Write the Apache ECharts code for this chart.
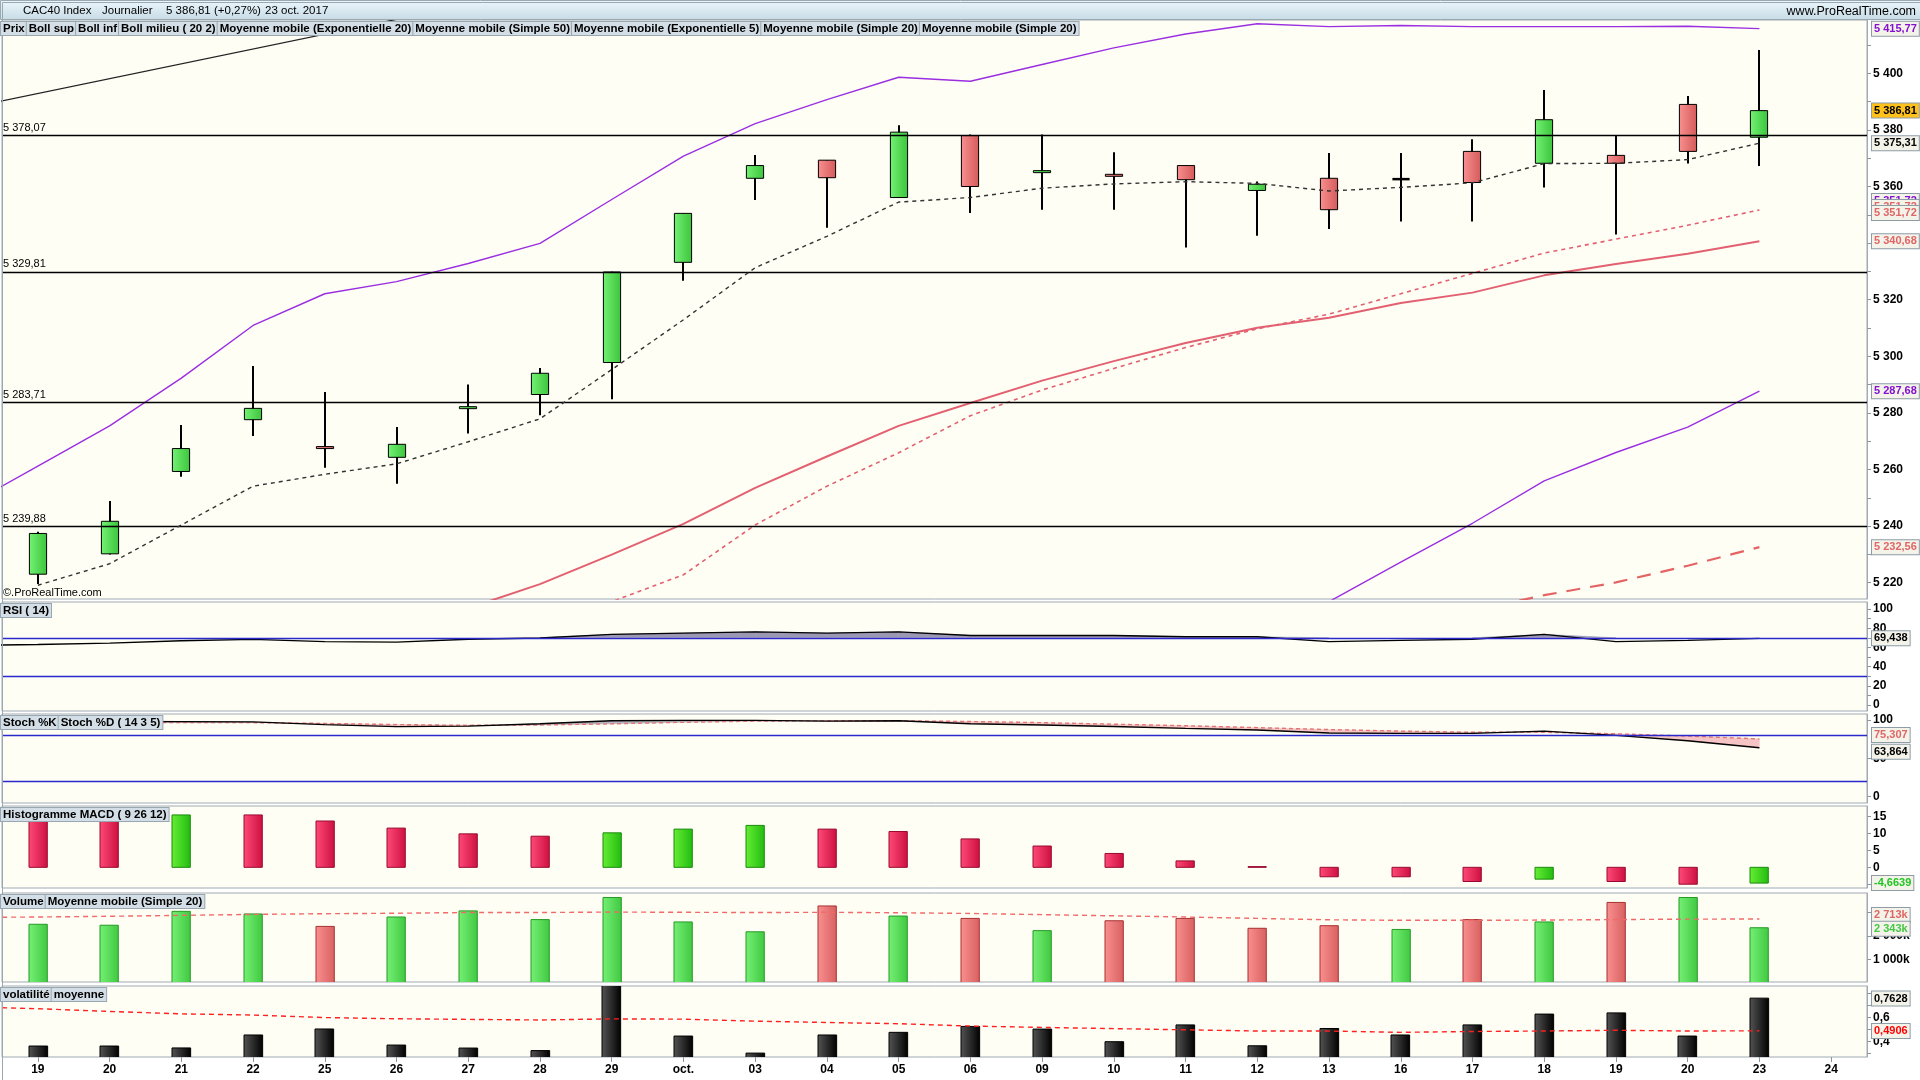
<!DOCTYPE html>
<html><head><meta charset="utf-8">
<script src="https://cdn.jsdelivr.net/npm/echarts@6/dist/echarts.min.js"></script>
<style>html,body{margin:0;padding:0;background:#fff;}#c{width:1920px;height:1080px;}</style>
</head><body><div id="c"></div><script>
// ---------------- DATA ----------------
const dateLabels = ['19','20','21','22','25','26','27','28','29','oct.','03','04','05','06','09','10','11','12','13','16','17','18','19','20','23','24'];
const openP  = [5223.0,5230.2,5259.3,5277.6,5268.1,5264.3,5281.5,5286.5,5297.8,5333.2,5362.9,5369.3,5356.1,5378.0,5364.9,5364.3,5367.4,5358.6,5362.9,5362.6,5372.4,5368.2,5371.0,5389.0,5377.4];
const highP  = [5238.0,5248.9,5275.7,5296.6,5287.4,5275.0,5290.0,5295.9,5329.9,5350.6,5371.1,5369.4,5381.6,5378.4,5378.4,5372.1,5367.6,5361.8,5371.8,5371.8,5376.7,5394.1,5377.9,5392.0,5408.2];
const lowP   = [5219.5,5230.0,5257.4,5271.8,5260.6,5255.0,5272.7,5279.2,5284.8,5326.7,5355.2,5345.4,5356.0,5350.6,5351.8,5351.8,5338.4,5342.6,5345.0,5347.6,5347.6,5359.6,5343.0,5368.1,5367.2];
const closeP = [5237.4,5241.7,5267.4,5281.6,5267.4,5268.9,5282.2,5294.0,5329.8,5350.5,5367.4,5363.1,5379.2,5360.0,5365.6,5363.7,5362.4,5360.8,5351.8,5362.6,5361.4,5383.6,5368.2,5372.4,5386.81];
const hLevels = [5378.07, 5329.81, 5283.71, 5239.88];
const bollSupPrior = 5247, bollInfPrior = 5069;
const bollSup = [5261.2,5275.4,5292.3,5310.9,5322.1,5326.4,5332.8,5339.9,5355.4,5370.7,5382.2,5390.7,5398.6,5397.2,5403.1,5409.0,5413.9,5417.5,5416.5,5416.9,5416.5,5416.5,5416.5,5416.6,5415.77];
const bollInf = [5062.7,5056.6,5047.7,5039.1,5041.9,5049.6,5057.2,5066.1,5070.6,5074.9,5098.6,5117.5,5133.2,5160.8,5173.1,5182.4,5192.3,5201.9,5213.3,5227.3,5241,5256,5266,5275,5287.68];
const ema5  = [5219.1,5226.7,5240.4,5254.1,5258.3,5262.0,5269.8,5277.9,5295.3,5312.9,5331.3,5342.4,5354.5,5356.1,5359.4,5360.9,5361.7,5361.1,5358.4,5359.7,5361.3,5368.1,5368.2,5369.5,5375.31];
const ema20 = [null,null,null,null,null,5203,5211,5219.5,5229.9,5240.8,5253.5,5264.6,5275.4,5283.5,5291.4,5298.3,5304.7,5310.1,5313.6,5318.8,5322.5,5328.6,5332.6,5336.2,5340.68];
const sma20 = [null,null,null,null,null,null,null,5204,5213.3,5222.8,5240.4,5254.1,5265.9,5279.0,5288.1,5295.7,5303.1,5309.7,5314.9,5322.1,5329.3,5336.5,5341.4,5346.3,5351.72];
const sma50 = [null,null,null,null,null,null,null,null,null,null,null,null,null,null,null,null,null,null,null,null,5210,5215.6,5220.1,5226.0,5232.56];
const trendX = [-0.55, 5.6];
const trendY = [5390.0, 5422.2];
const priceTicks  = [5220,5230,5240,5250,5260,5270,5280,5290,5300,5310,5320,5330,5340,5350,5360,5370,5380,5390,5400,5410];
const priceLabels = [5220,5240,5260,5280,5300,5320,5340,5360,5380,5400];

const rsiPrior = 62;
const rsi = [63,64.5,67,68.4,66,65.5,68.5,69.8,73.6,74.9,76.2,74.9,76.2,72.4,72.4,72.4,71.1,71.1,66,67.3,68.5,73.6,66,67.3,69.438];
const rsiLevels = [70, 30];
const rsiTicks = [0,10,20,30,40,50,60,70,80,90,100];
const rsiLabels = [0,20,40,60,80,100];

const stochKPrior = 98, stochDPrior = 95.5;
const stochK = [98,98,97.8,97.5,94,91.3,92,95,99,99.5,99.5,98.5,99,95,93.5,91.5,89,87,83,82.5,82.5,85.5,80,73,63.864];
const stochD = [96,96.5,96.5,96.5,95.5,94,93,93.5,95,97,98.5,99,99,98,96.5,94.5,92.5,90,87.5,85.5,84,84,82,79,75.307];
const stochLevels = [80, 20];
const stochTicks = [0,50,100];

const macd = [13.7,13.7,15.5,15.5,13.7,11.6,9.9,9.2,10.2,11.3,12.4,11.3,10.6,8.4,6.3,4.1,1.9,0.2,-2.8,-2.8,-4.2,-3.5,-4.2,-5.0,-4.6639];
const macdDir = ['d','d','u','d','d','d','d','d','u','u','u','d','d','d','d','d','d','d','d','d','d','u','d','d','u'];
const macdTicks = [-5,0,5,10,15];

const volume = [2490,2450,3040,2930,2400,2800,3060,2690,3630,2590,2170,3270,2840,2740,2220,2640,2740,2320,2430,2270,2690,2590,3420,3630,2343];
const volDir = ['u','u','u','u','d','u','u','u','u','u','u','d','u','d','u','d','d','d','d','u','d','u','d','u','u'];
const volMAPrior = 2780;
const volMA = [2800,2830,2870,2910,2940,2960,2990,2990,3010,3000,2990,3000,2980,2950,2900,2850,2800,2740,2680,2660,2660,2670,2690,2710,2713];
const volTicks = [1000,2000,3000];

const volat = [0.364,0.364,0.348,0.456,0.506,0.372,0.347,0.326,0.88,0.447,0.305,0.456,0.478,0.527,0.505,0.40,0.54,0.366,0.51,0.456,0.54,0.63,0.64,0.447,0.7628];
const volatMAPrior = 0.69;
const volatMA = [0.675,0.652,0.632,0.622,0.601,0.591,0.586,0.581,0.59,0.588,0.571,0.56,0.55,0.53,0.519,0.509,0.499,0.489,0.489,0.478,0.485,0.489,0.495,0.489,0.4906];
const volatTicks = [0.3,0.4,0.5,0.6,0.7,0.8];
const volatLabels = [0.4,0.6];

// ---------------- HELPERS ----------------
const F = "'Liberation Sans', Arial, Helvetica, sans-serif";
function frNum(v, d) {
  const s = Math.abs(v).toFixed(d);
  const parts = s.split('.');
  const ip = parts[0].replace(/\B(?=(\d{3})+(?!\d))/g, ' ');
  return (v < 0 ? '-' : '') + ip + (parts[1] ? ',' + parts[1] : '');
}
const idx = dateLabels.map((_, i) => i);
const pts = (arr, prior) => {
  const out = [];
  if (prior !== undefined) out.push([-1, prior]);
  arr.forEach((v, i) => { if (v !== null && v !== undefined) out.push([i, v]); });
  return out;
};
// segments [x0, a0, b0, x1, a1, b1] for filled bands between two series
const segs = (aArr, bArr, aPrior, bPrior) => {
  const A = [aPrior].concat(aArr), B = [bPrior].concat(bArr), out = [];
  for (let k = 0; k < A.length - 1; k++) out.push([k - 1, A[k], B[k], k, A[k + 1], B[k + 1]]);
  return out;
};
const grad = (a, b) => new echarts.graphic.LinearGradient(0, 0, 1, 0, [{offset: 0, color: a}, {offset: 1, color: b}]);
const gUp = grad('#74F274', '#3CC43C');
const gDn = grad('#F99090', '#D45A5A');
const gMacdUp = grad('#66EE33', '#22BB11');
const gMacdDn = grad('#FF4A78', '#CC1040');
const gVolUp = grad('#76F076', '#40C840');
const gVolDn = grad('#FA9090', '#D86060');
const gBlack = grad('#555555', '#000000');

function tag(v, text, color, dy, bg) {
  return {
    yAxis: v, lineStyle: {color: 'rgba(0,0,0,0)', width: 1, opacity: 1},
    label: {show: true, position: 'end', distance: 5, formatter: text, color: color,
      backgroundColor: bg || '#F3F3EA', borderColor: '#8E9CA6', borderWidth: 1,
      padding: [2, 2, 1, 2], fontSize: 11, fontWeight: 'bold', fontFamily: F, offset: [0, dy || 0]}
  };
}
function level(v, color) {
  return {yAxis: v, lineStyle: {color: color, width: 1.3, type: 'solid', opacity: 1}, label: {show: false}};
}
function renderCandle(params, api) {
  const i = api.value(0), o = api.value(1), h = api.value(2), l = api.value(3), c = api.value(4);
  const pH = api.coord([i, h]), pL = api.coord([i, l]), pO = api.coord([i, o]), pC = api.coord([i, c]);
  const w = api.size([1, 0])[0] * 0.24;
  const xc = Math.round(pH[0]);
  const kids = [{type: 'line', shape: {x1: xc, y1: pH[1], x2: xc, y2: pL[1]}, style: {stroke: '#000', lineWidth: 2}}];
  if (o === c) {
    kids.push({type: 'line', shape: {x1: xc - w / 2, y1: pO[1], x2: xc + w / 2, y2: pO[1]}, style: {stroke: '#000', lineWidth: 2.5}});
  } else {
    const top = Math.min(pO[1], pC[1]), hgt = Math.abs(pO[1] - pC[1]);
    kids.push({type: 'rect', shape: {x: xc - w / 2, y: top, width: w, height: Math.max(hgt, 2)},
      style: {fill: c > o ? gUp : gDn, stroke: '#000', lineWidth: 1}});
  }
  return {type: 'group', children: kids};
}
function barRenderer(dirs, upG, dnG, upB, dnB, frac) {
  return function (params, api) {
    const i = api.value(0), v = api.value(1);
    const p0 = api.coord([i, 0]), p1 = api.coord([i, v]);
    const w = api.size([1, 0])[0] * frac;
    const up = !dirs || dirs[params.dataIndex] === 'u';
    return {type: 'rect', shape: {x: Math.round(p0[0] - w / 2), y: Math.min(p0[1], p1[1]), width: w, height: Math.abs(p1[1] - p0[1])},
      style: {fill: up ? upG : dnG, stroke: up ? upB : dnB, lineWidth: 1}};
  };
}
function fillRenderer(colorFn) {
  return function (params, api) {
    const x0 = api.value(0), a0 = api.value(1), b0 = api.value(2), x1 = api.value(3), a1 = api.value(4), b1 = api.value(5);
    const col = colorFn(a0, b0, a1, b1);
    if (!col) return null;
    const p = [api.coord([x0, a0]), api.coord([x1, a1]), api.coord([x1, b1]), api.coord([x0, b0])];
    return {type: 'polygon', shape: {points: p}, style: {fill: col, stroke: col, lineWidth: 0.5}};
  };
}

// ---------------- LAYOUT ----------------
const grids = [
  {top: 20, height: 579},
  {top: 602, height: 109},
  {top: 714, height: 89},
  {top: 806, height: 82},
  {top: 893, height: 89},
  {top: 986, height: 71}
].map(g => Object.assign({left: 2, right: 53, show: true, backgroundColor: '#FEFEF5', borderColor: '#A0AAB2', borderWidth: 1}, g));

const xAxes = grids.map((g, gi) => ({
  type: 'value', gridIndex: gi, min: -0.5, max: 25.5, show: gi === 5,
  axisLine: {show: false, onZero: false}, splitLine: {show: false},
  axisTick: {show: true, customValues: idx, length: 5, lineStyle: {color: '#8A98A2'}},
  axisLabel: {show: true, customValues: idx, formatter: v => dateLabels[Math.round(v)], color: '#000', fontWeight: 'bold', fontSize: 12, fontFamily: F, margin: 7}
}));
function yAx(gi, min, max, tickVals, labelVals, fmt) {
  return {type: 'value', gridIndex: gi, position: 'right', min: min, max: max,
    splitLine: {show: false}, axisLine: {show: true, onZero: false, lineStyle: {color: '#A0AAB2'}},
    axisTick: {show: true, length: 4, customValues: tickVals, lineStyle: {color: '#8A98A2'}},
    axisLabel: {show: true, customValues: labelVals, formatter: fmt, color: '#000', fontWeight: 'bold', fontSize: 12, fontFamily: F, margin: 6}};
}
const yAxes = [
  yAx(0, 5214.24, 5418.83, priceTicks, priceLabels, v => frNum(v, 0)),
  yAx(1, -6.25, 107.3, rsiTicks, rsiLabels, v => String(v)),
  yAx(2, -8.2, 107.8, stochTicks, stochTicks, v => String(v)),
  yAx(3, -6.12, 18.14, macdTicks, macdTicks, v => String(v)),
  yAx(4, 34, 3821, volTicks, volTicks, v => frNum(v, 0) + 'k'),
  yAx(5, 0.2725, 0.864, volatTicks, volatLabels, v => frNum(v, 1))
];

const noSym = {symbol: 'none', showSymbol: false, animation: false};
const ML = data => ({symbol: ['none', 'none'], silent: true, animation: false, data: data});
const series = [];
// Bollinger band fill
series.push(Object.assign({type: 'line', xAxisIndex: 0, yAxisIndex: 0, stack: 'boll', z: 1, lineStyle: {opacity: 0},
  data: pts(bollInf, bollInfPrior)}, noSym));
series.push(Object.assign({type: 'line', xAxisIndex: 0, yAxisIndex: 0, stack: 'boll', z: 1, lineStyle: {opacity: 0},
  areaStyle: {color: '#FFFFC0', opacity: 1},
  data: pts(bollSup.map((v, i) => v - bollInf[i]), bollSupPrior - bollInfPrior)}, noSym));
// candles
series.push({type: 'custom', xAxisIndex: 0, yAxisIndex: 0, z: 3, clip: true, renderItem: renderCandle,
  encode: {x: 0, y: [1, 2, 3, 4]}, animation: false,
  data: closeP.map((c, i) => [i, openP[i], highP[i], lowP[i], c])});
// trend line
series.push(Object.assign({type: 'line', xAxisIndex: 0, yAxisIndex: 0, z: 4, lineStyle: {color: '#222', width: 1.2},
  data: trendX.map((x, i) => [x, trendY[i]])}, noSym));
// Boll sup / inf
series.push(Object.assign({type: 'line', xAxisIndex: 0, yAxisIndex: 0, z: 4, lineStyle: {color: '#9A2EE0', width: 1.4},
  data: pts(bollSup, bollSupPrior), markLine: ML([tag(5415.77, '5 415,77', '#8410D0')])}, noSym));
series.push(Object.assign({type: 'line', xAxisIndex: 0, yAxisIndex: 0, z: 4, lineStyle: {color: '#9A2EE0', width: 1.4},
  data: pts(bollInf, bollInfPrior), markLine: ML([tag(5287.68, '5 287,68', '#8410D0')])}, noSym));
// SMA50 long dash
series.push(Object.assign({type: 'line', xAxisIndex: 0, yAxisIndex: 0, z: 4, lineStyle: {color: '#E46464', width: 2.2, type: [14, 10]},
  data: pts(sma50), markLine: ML([tag(5232.56, '5 232,56', '#E06666')])}, noSym));
// EMA20 solid red
series.push(Object.assign({type: 'line', xAxisIndex: 0, yAxisIndex: 0, z: 4, lineStyle: {color: '#E26070', width: 2},
  data: pts(ema20), markLine: ML([tag(5340.68, '5 340,68', '#E06666')])}, noSym));
// SMA20 dotted red
series.push(Object.assign({type: 'line', xAxisIndex: 0, yAxisIndex: 0, z: 4, lineStyle: {color: '#E26070', width: 1.6, type: [4, 4]},
  data: pts(sma20), markLine: ML([
    tag(5351.72, '5 351,72', '#8410D0', -9), tag(5351.72, '5 351,72', '#E06666', -3), tag(5351.72, '5 351,72', '#E06666', 3)])}, noSym));
// EMA5 black dashed + horizontal levels + tags
series.push(Object.assign({type: 'line', xAxisIndex: 0, yAxisIndex: 0, z: 5, lineStyle: {color: '#333', width: 1.4, type: [4, 4]},
  data: pts(ema5), markLine: ML(
    hLevels.map(v => ({yAxis: v, lineStyle: {color: '#000', width: 1.3, type: 'solid', opacity: 1},
      label: {show: true, position: 'insideStartTop', distance: [1, 2], formatter: frNum(v, 2), color: '#000', fontSize: 11, fontFamily: F}}))
    .concat([tag(5375.31, '5 375,31', '#000'), tag(5386.81, '5 386,81', '#000', 0, '#FFC21C')]))}, noSym));

// RSI
series.push({type: 'custom', xAxisIndex: 1, yAxisIndex: 1, z: 1, clip: true, animation: false,
  renderItem: fillRenderer((a0, b0, a1, b1) => (a0 > 70 || a1 > 70) ? '#9C98B4' : null),
  encode: {x: [0, 3], y: [1, 2, 4, 5]},
  data: segs(rsi.map(v => Math.max(v, 70)), rsi.map(() => 70), Math.max(rsiPrior, 70), 70)});
series.push(Object.assign({type: 'line', xAxisIndex: 1, yAxisIndex: 1, z: 3, lineStyle: {color: '#000', width: 1.4},
  data: pts(rsi, rsiPrior),
  markLine: ML(rsiLevels.map(v => level(v, '#2A2ACC')).concat([tag(69.438, '69,438', '#000')]))}, noSym));

// Stoch
series.push({type: 'custom', xAxisIndex: 2, yAxisIndex: 2, z: 1, clip: true, animation: false,
  renderItem: fillRenderer((a0, b0, a1, b1) => ((b0 + b1) - (a0 + a1)) > 0 ? '#F6C4C4' : '#B4B4BE'),
  encode: {x: [0, 3], y: [1, 2, 4, 5]},
  data: segs(stochK, stochD, stochKPrior, stochDPrior)});
series.push(Object.assign({type: 'line', xAxisIndex: 2, yAxisIndex: 2, z: 3, lineStyle: {color: '#E07878', width: 1.4, type: [4, 3]},
  data: pts(stochD, stochDPrior),
  markLine: ML(stochLevels.map(v => level(v, '#2A2ACC')).concat([tag(75.307, '75,307', '#E06666', -4)]))}, noSym));
series.push(Object.assign({type: 'line', xAxisIndex: 2, yAxisIndex: 2, z: 4, lineStyle: {color: '#000', width: 1.4},
  data: pts(stochK, stochKPrior), markLine: ML([tag(63.864, '63,864', '#000', 4)])}, noSym));

// MACD histogram
series.push({type: 'custom', xAxisIndex: 3, yAxisIndex: 3, z: 2, clip: true, animation: false,
  renderItem: barRenderer(macdDir, gMacdUp, gMacdDn, '#1A8A0A', '#9A0A30', 0.255),
  encode: {x: 0, y: 1}, data: pts(macd)});
series.push(Object.assign({type: 'line', xAxisIndex: 3, yAxisIndex: 3, z: 1, lineStyle: {opacity: 0},
  data: pts(macd), markLine: ML([tag(-4.6639, '-4,6639', '#22C522')])}, noSym));

// Volume
series.push({type: 'custom', xAxisIndex: 4, yAxisIndex: 4, z: 2, clip: true, animation: false,
  renderItem: barRenderer(volDir, gVolUp, gVolDn, '#259A25', '#A83030', 0.255),
  encode: {x: 0, y: 1}, data: pts(volume)});
series.push(Object.assign({type: 'line', xAxisIndex: 4, yAxisIndex: 4, z: 3, lineStyle: {color: '#F06A6A', width: 1.4, type: [5, 4]},
  data: pts(volMA, volMAPrior), markLine: ML([tag(2713, '2 713k', '#E06666', -4), tag(2343, '2 343k', '#44C844', 1)])}, noSym));

// Volatility
series.push({type: 'custom', xAxisIndex: 5, yAxisIndex: 5, z: 2, clip: true, animation: false,
  renderItem: barRenderer(null, gBlack, gBlack, '#000', '#000', 0.26),
  encode: {x: 0, y: 1}, data: pts(volat)});
series.push(Object.assign({type: 'line', xAxisIndex: 5, yAxisIndex: 5, z: 3, lineStyle: {color: '#FF2020', width: 1.4, type: [5, 4]},
  data: pts(volatMA, volatMAPrior), markLine: ML([tag(0.7628, '0,7628', '#000'), tag(0.4906, '0,4906', '#FF0000')])}, noSym));

// ---------------- LEGENDS / HEADER ----------------
const boxStyle = c => ({color: c, fontWeight: 'bold', fontSize: 11.5, fontFamily: F, backgroundColor: '#D3DEE6',
  borderColor: '#98A7B2', borderWidth: 1, padding: [1, 2, 0, 2], lineHeight: 12});
const rich = {k: boxStyle('#000'), v: boxStyle('#8410D0'), r: boxStyle('#E06666'), g: boxStyle('#33C41A'), gv: boxStyle('#55C855'), rr: boxStyle('#FF0000')};
function legendText(top, text) {
  return {type: 'text', left: 0, top: top, z: 100, style: {text: text, rich: rich, font: 'bold 11.5px ' + F}};
}
const headerText = (x, t) => ({type: 'text', left: x, top: 5, z: 101, style: {text: t, fill: '#000', font: '11.5px ' + F}});

const graphic = [
  {type: 'rect', left: 0, top: 0, z: 90, shape: {width: 1920, height: 19},
    style: {fill: new echarts.graphic.LinearGradient(0, 0, 0, 1, [{offset: 0, color: '#ECF7FC'}, {offset: 1, color: '#C7DBE6'}]), stroke: '#9AA8B2', lineWidth: 1}},
  {type: 'group', left: 3, top: 2, z: 101, children: [
    {type: 'line', shape: {x1: 4, y1: 3, x2: 4, y2: 15}, style: {stroke: '#000', lineWidth: 1}},
    {type: 'rect', shape: {x: 1.5, y: 6.5, width: 5, height: 7}, style: {fill: '#E05050', stroke: '#000', lineWidth: 1}},
    {type: 'line', shape: {x1: 11, y1: 0, x2: 11, y2: 13}, style: {stroke: '#000', lineWidth: 1}},
    {type: 'rect', shape: {x: 8.5, y: 2.5, width: 5, height: 9}, style: {fill: '#40D040', stroke: '#000', lineWidth: 1}}
  ]},
  headerText(23, 'CAC40 Index'),
  headerText(102, 'Journalier'),
  headerText(166, '5 386,81 (+0,27%)'),
  headerText(265, '23 oct. 2017'),
  {type: 'text', right: 4, top: 5, z: 101, style: {text: 'www.ProRealTime.com', fill: '#000', font: '12.5px ' + F}},
  legendText(21, '{k|Prix}{v|Boll sup}{v|Boll inf}{v|Boll milieu ( 20 2)}{r|Moyenne mobile (Exponentielle 20)}{r|Moyenne mobile (Simple 50)}{k|Moyenne mobile (Exponentielle 5)}{r|Moyenne mobile (Simple 20)}{r|Moyenne mobile (Simple 20)}'),
  {type: 'text', left: 3, top: 587, z: 100, style: {text: '©.ProRealTime.com', fill: '#000', font: '11px ' + F}},
  legendText(603, '{k|RSI ( 14)}'),
  legendText(715, '{k|Stoch %K}{r|Stoch %D ( 14 3 5)}'),
  legendText(807, '{g|Histogramme MACD ( 9 26 12)}'),
  legendText(894, '{gv|Volume}{r|Moyenne mobile (Simple 20)}'),
  legendText(987, '{k|volatilité}{rr|moyenne}'),
  {type: 'rect', left: 0, top: 0, z: 95, silent: true, shape: {width: 1919, height: 1079}, style: {fill: 'none', stroke: '#9AA8B2', lineWidth: 1}}
];

const chart = echarts.init(document.getElementById('c'), null, {renderer: 'canvas', width: 1920, height: 1080});
chart.setOption({
  animation: false,
  backgroundColor: '#FFFFFF',
  grid: grids,
  xAxis: xAxes,
  yAxis: yAxes,
  series: series,
  graphic: graphic
});
</script></body></html>
